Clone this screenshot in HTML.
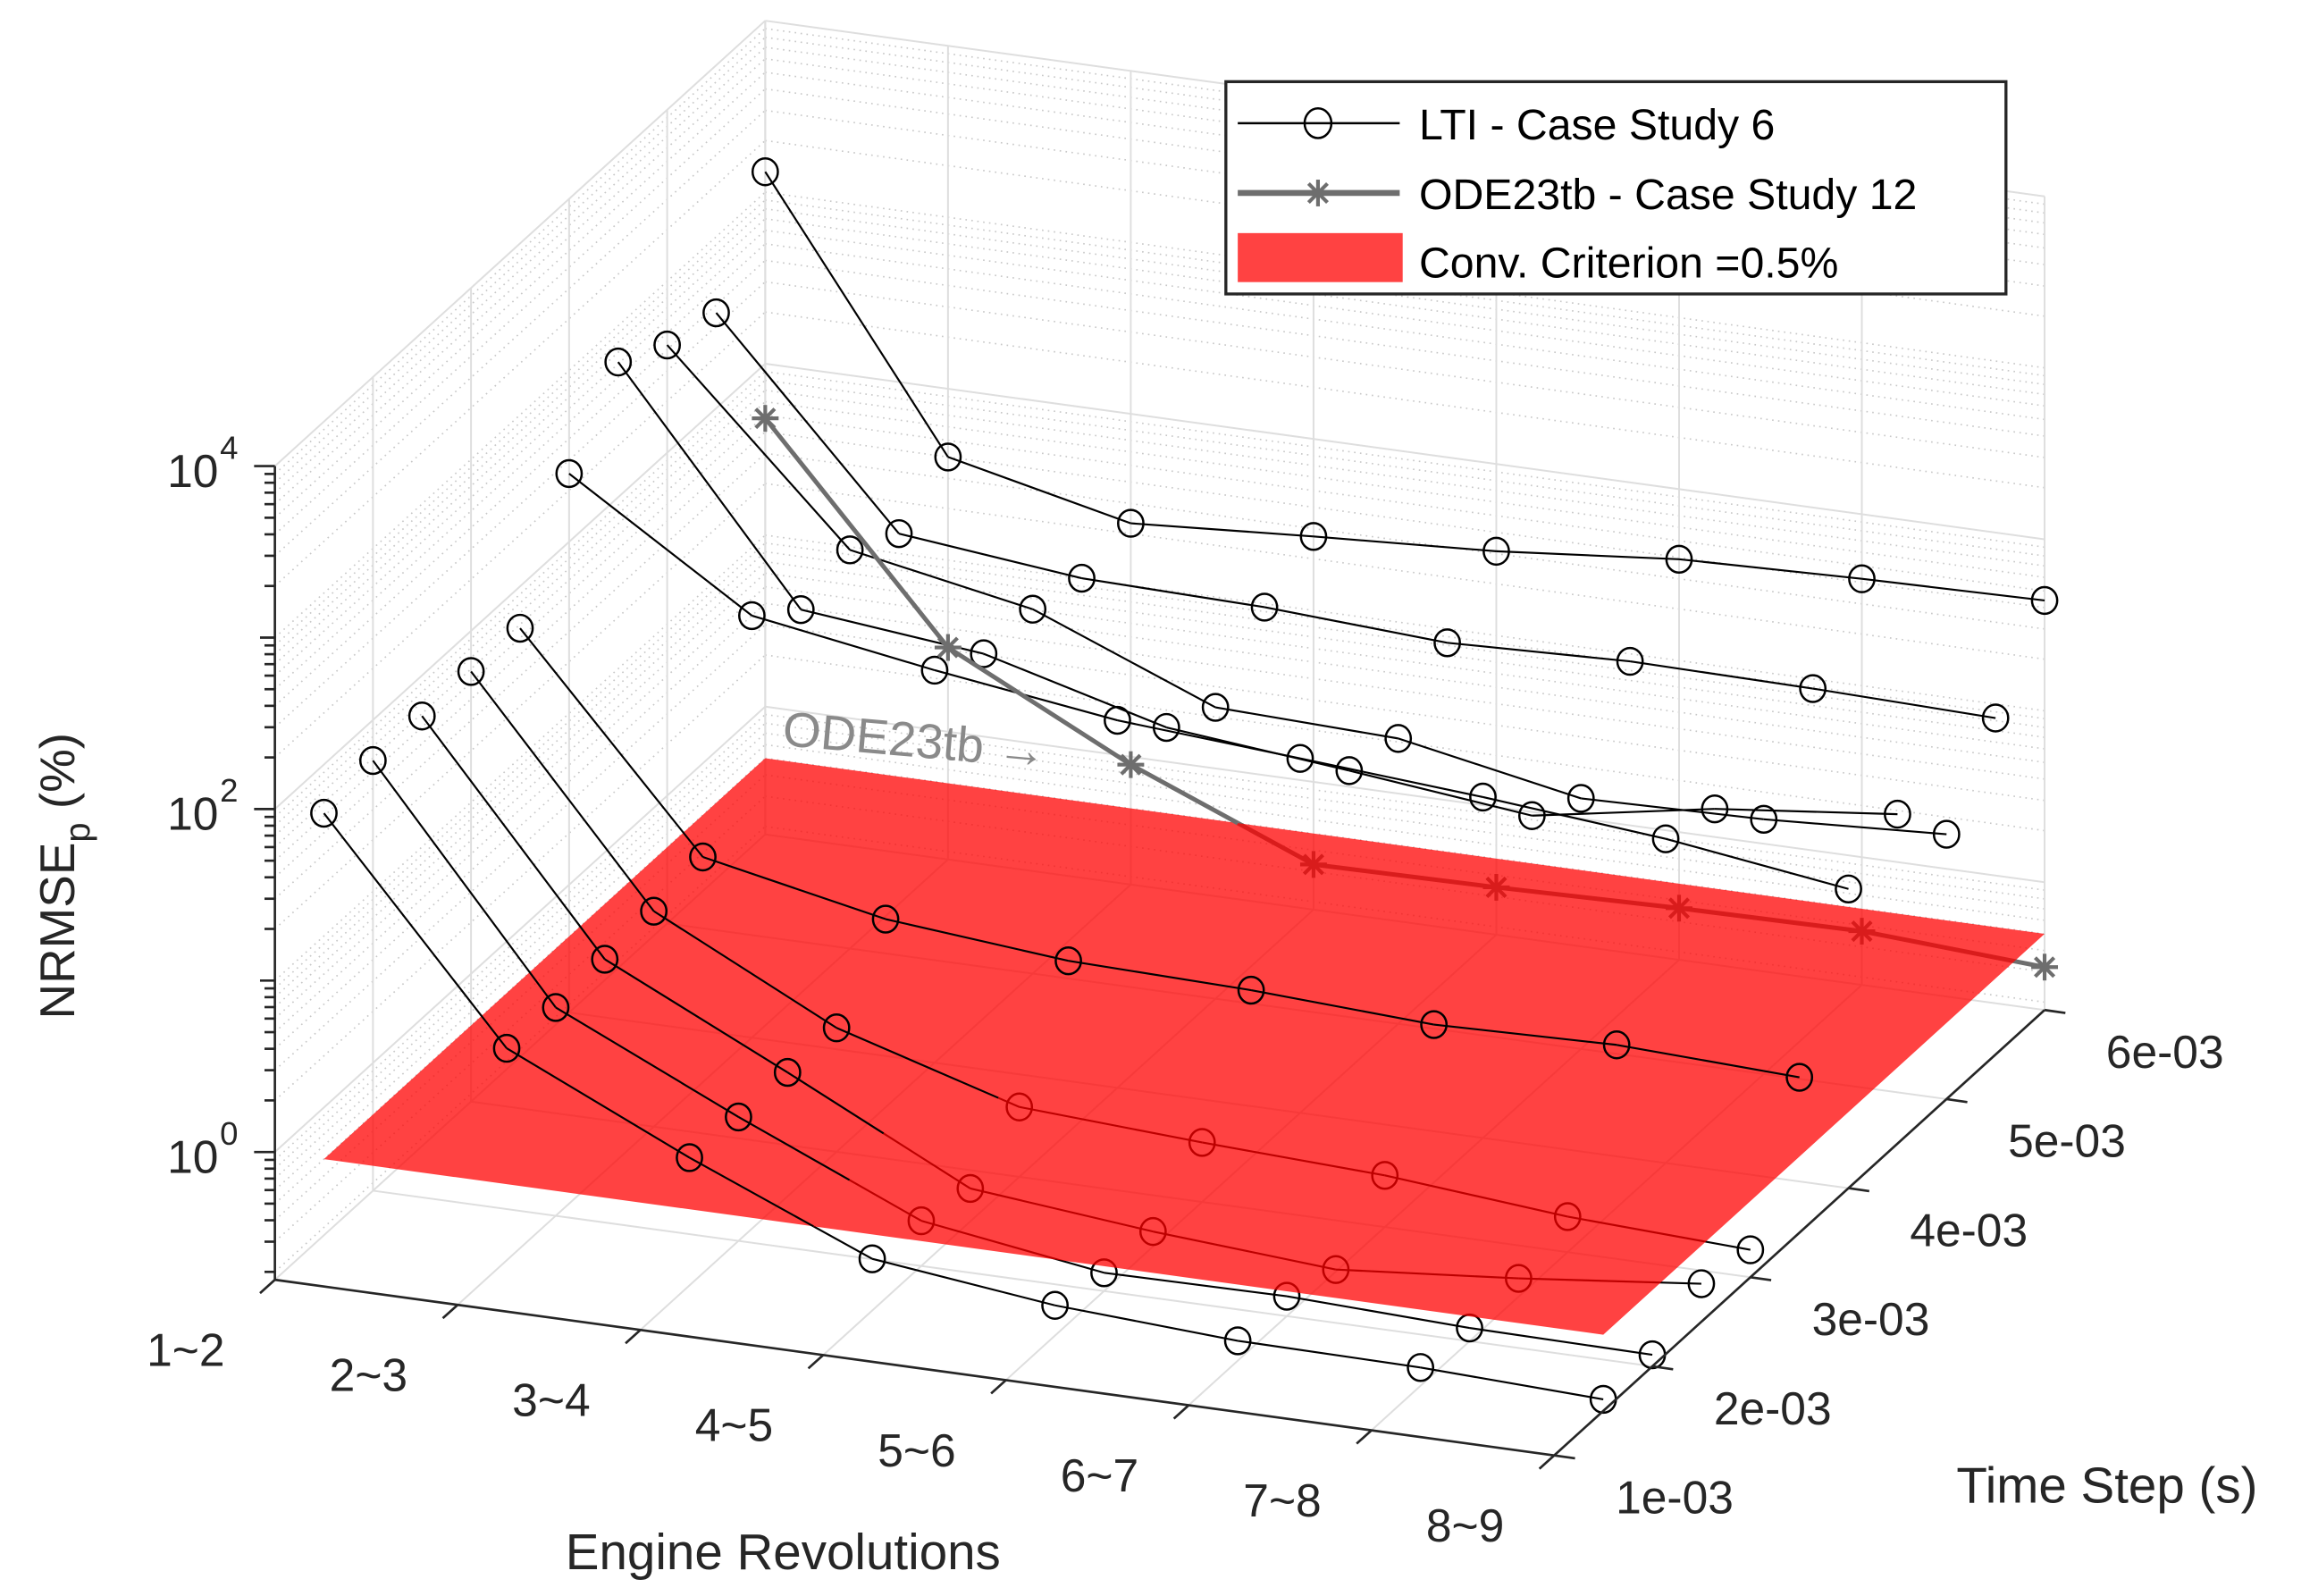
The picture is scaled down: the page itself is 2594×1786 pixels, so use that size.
<!DOCTYPE html>
<html><head><meta charset="utf-8"><style>
html,body{margin:0;padding:0;background:#fff;}
svg{display:block;font-family:"Liberation Sans",Arial,sans-serif;}
</style></head><body>
<svg id="chart" width="2594" height="1786" viewBox="0 0 1560 1075" preserveAspectRatio="none" xmlns="http://www.w3.org/2000/svg">
<g id="grid"></g>
<g id="below"></g>
<g id="plane"></g>
<g id="above"></g>
<g id="axes"></g>
<text x="526" y="502" font-size="33" fill="#8a8a8a" transform="rotate(5 526 502)">ODE23tb →</text>
<text x="527" y="1057" font-size="34" fill="#262626" text-anchor="middle">Engine Revolutions</text>
<text x="1418" y="1012" font-size="34" fill="#262626" text-anchor="middle">Time Step (s)</text>
<text transform="translate(50 590) rotate(-90)" font-size="33" fill="#262626" text-anchor="middle">NRMSE<tspan font-size="24" dy="10">p</tspan><tspan dy="-10"> (%)</tspan></text>
<g>
<rect x="825" y="55" width="525" height="143" fill="#fff" stroke="#262626" stroke-width="2"/>
<g>
<line x1="833" y1="83" x2="942" y2="83" stroke="#000" stroke-width="1.5"/>
<ellipse cx="887" cy="83" rx="9" ry="10" fill="none" stroke="#000" stroke-width="1.5"/>
<text x="955" y="94" font-size="29" fill="#000">LTI - Case Study 6</text></g>
<g>
<line x1="833" y1="130" x2="942" y2="130" stroke="#6e6e6e" stroke-width="4"/>
<g id="legstar"></g>
<text x="955" y="141" font-size="29" fill="#000">ODE23tb - Case Study 12</text></g>
<g>
<rect x="833" y="157" width="111" height="33" fill="#ff4242"/>
<text x="955" y="187" font-size="29" fill="#000">Conv. Criterion =0.5%</text></g>
</g>
</svg>
<script>
const categories = ['1~2','2~3','3~4','4~5','5~6','6~7','7~8','8~9'];
const timeSteps = [0.0015,0.002,0.0025,0.003,0.0035,0.004,0.0045,0.005,0.0055,0.006];
const lti0 = [52,3.1,1.0,0.36,0.27,0.235,0.23,0.21];
const lti1 = [58,2.95,0.95,0.33,0.23,0.235,0.215,0.21];
const lti2 = [58,3.1,0.95,0.28,0.22,0.185,0.23,0.30];
const lti3 = [58,3.25,0.95,0.46,0.40,0.36,0.29,0.26];
const lti4 = [57,3.7,2.25,1.8,1.7,1.5,1.6,1.45];
const lti5 = [250,52,35,25,21,17.5,14,10];
const lti6 = [615,31,24,12.5,9.8,7.5,11.5,15];
const lti7 = [425,38,24,9,8.3,5.2,5.5,6.3];
const lti8 = [360,26,20,19,16.5,18,17.5,16.5];
const lti9 = [1315,40,23,27,31,39,42,44];
const ltiSeries = [lti0,lti1,lti2,lti3,lti4,lti5,lti6,lti7,lti8,lti9];
const odeValues = [48,3.1,0.9,0.33,0.34,0.36,0.37,0.32];
const odeTimeStep = 0.006;
const criterion = 0.5;
const yTickValues = [0.001,0.002,0.003,0.004,0.005,0.006];
const yTickLabels = ['1e-03','2e-03','3e-03','4e-03','5e-03','6e-03'];
const zTickExps = [0,2,4];

const NS='http://www.w3.org/2000/svg';
const ZMIN=-0.745, ZMAX=4.0, YMIN=0.001, YMAX=0.006, XMIN=1, XMAX=8;
function proj(x,y,z){
  const dy=(y-YMIN)/0.001;
  return [185+(x-1)*123+dy*66, 862+(x-1)*16.9-dy*60-(z-ZMIN)*115.5];
}
function el(tag,attrs,parent){const e=document.createElementNS(NS,tag);for(const k in attrs)e.setAttribute(k,attrs[k]);parent.appendChild(e);return e;}
const G=document.getElementById('grid'),B=document.getElementById('below'),P=document.getElementById('plane'),A=document.getElementById('above'),AX=document.getElementById('axes');
function seg(p,q,attrs,parent){return el('line',Object.assign({x1:p[0],y1:p[1],x2:q[0],y2:q[1]},attrs),parent);}

const major={stroke:'#dedede','stroke-width':1.2};
const minor={stroke:'#c8c8c8','stroke-width':1,'stroke-dasharray':'1 3'};
const zLines=[];
for(let d=-1;d<=4;d++){for(let m=1;m<=9;m++){const z=d+Math.log10(m);if(z>=ZMIN-1e-9&&z<=ZMAX+1e-9)zLines.push([z,m===1&&d%2===0]);}}
zLines.forEach(([z,isMaj])=>{
  const l=seg(proj(XMIN,YMIN,z),proj(XMIN,YMAX,z),isMaj?major:minor,G);
  
  
  const b=seg(proj(XMIN,YMAX,z),proj(XMAX,YMAX,z),isMaj?major:minor,G);
  
  
});
yTickValues.forEach(y=>{
  const l=seg(proj(XMIN,y,ZMIN),proj(XMIN,y,ZMAX),major,G);
  
  
  const f=seg(proj(XMIN,y,ZMIN),proj(XMAX,y,ZMIN),major,G);
  
  
});
categories.forEach((c,i)=>{
  const x=i+1;
  const l=seg(proj(x,YMAX,ZMIN),proj(x,YMAX,ZMAX),major,G);
  
  
  const f=seg(proj(x,YMIN,ZMIN),proj(x,YMAX,ZMIN),major,G);
  
  
});

const zp=Math.log10(criterion);
const pc=[proj(1,timeSteps[0],zp),proj(8,timeSteps[0],zp),proj(8,timeSteps[timeSteps.length-1],zp),proj(1,timeSteps[timeSteps.length-1],zp)];
const poly=el('polygon',{points:pc.map(p=>p.join(',')).join(' '),fill:'#ff0000','fill-opacity':0.74},P);



function star(cx,cy,r,color,parent,w){
  const g=el('g',{},parent);
  for(let k=0;k<4;k++){const a=k*Math.PI/4;el('line',{x1:cx-r*Math.cos(a),y1:cy-r*Math.sin(a),x2:cx+r*Math.cos(a),y2:cy+r*Math.sin(a),stroke:color,'stroke-width':w},g);}
  return g;
}
function drawSeries(vals,y,style,name){
  const pts=vals.map((v,j)=>{const z=Math.log10(v);return {z,p:proj(j+1,y,z)};});
  for(let j=0;j<pts.length-1;j++){
    const a=pts[j],b=pts[j+1];
    const attrs={stroke:style.color,'stroke-width':style.w};
    if((a.z-zp)*(b.z-zp)<0){
      const t=(zp-a.z)/(b.z-a.z);
      const m=[a.p[0]+t*(b.p[0]-a.p[0]),a.p[1]+t*(b.p[1]-a.p[1])];
      const s1=seg(a.p,m,attrs,a.z>=zp?A:B);
      
      
      const s2=seg(m,b.p,attrs,b.z>=zp?A:B);
      
      
    } else {
      const s=seg(a.p,b.p,attrs,a.z>=zp?A:B);
      
      
    }
  }
  pts.forEach(pt=>{
    const par=pt.z>=zp?A:B;
    let mk;
    if(style.marker==='circle') mk=el('ellipse',{cx:pt.p[0],cy:pt.p[1],rx:8.5,ry:9,fill:'none',stroke:style.color,'stroke-width':1.5},par);
    else mk=star(pt.p[0],pt.p[1],9,style.color,par,2.5);
    
    
  });
}
ltiSeries.forEach((vals,i)=>drawSeries(vals,timeSteps[i],{color:'#000',w:1.3,marker:'circle'},'lti-line-'+i));
drawSeries(odeValues,odeTimeStep,{color:'#6e6e6e',w:3,marker:'star'},'ode23tb-line');
star(887,130,9,'#6e6e6e',document.getElementById('legstar'),2.5);

const axs={stroke:'#262626','stroke-width':1.6};
const xa=seg(proj(XMIN,YMIN,ZMIN),proj(XMAX,YMIN,ZMIN),axs,AX);


const ya=seg(proj(XMAX,YMIN,ZMIN),proj(XMAX,YMAX,ZMIN),axs,AX);


const za=seg(proj(XMIN,YMIN,ZMIN),proj(XMIN,YMIN,ZMAX),axs,AX);


categories.forEach((c,i)=>{
  const p=proj(i+1,YMIN,ZMIN);
  const t=seg(p,[p[0]-10,p[1]+9],axs,AX);
  
  
  const tx=el('text',{x:p[0]-60,y:p[1]+58,'font-size':31,fill:'#262626','text-anchor':'middle'},AX);
  tx.textContent=c;
  
  
});
yTickValues.forEach((y,i)=>{
  const p=proj(XMAX,y,ZMIN);
  const t=seg(p,[p[0]+14,p[1]+2],axs,AX);
  
  
  const tx=el('text',{x:p[0]+81,y:p[1]+39,'font-size':31,fill:'#262626','text-anchor':'middle'},AX);
  tx.textContent=yTickLabels[i];
  
  
});
zLines.forEach(([z,isMaj])=>{
  const p=proj(XMIN,YMIN,z);
  const len=isMaj?14:(Math.abs(z-Math.round(z))<1e-9?10:7);
  const t=seg(p,[p[0]-len,p[1]],axs,AX);
  
  
});
zTickExps.forEach(e=>{
  const p=proj(XMIN,YMIN,e);
  const tx=el('text',{x:p[0]-38,y:p[1]+14,'font-size':31,fill:'#262626','text-anchor':'end'},AX);
  tx.textContent='10';
  
  
  const sp=el('text',{x:p[0]-37,y:p[1]-5,'font-size':22,fill:'#262626','text-anchor':'start'},AX);
  sp.textContent=String(e);
  
  
});
</script>
</body></html>
